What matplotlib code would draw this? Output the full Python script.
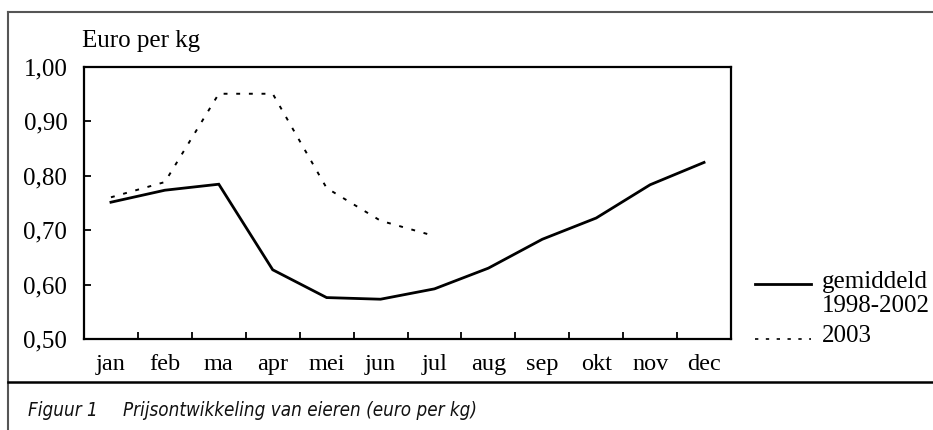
import matplotlib
matplotlib.use("Agg")
import matplotlib.pyplot as plt
from matplotlib.lines import Line2D

# ---- data ----
months = ["jan", "feb", "ma", "apr", "mei", "jun", "jul", "aug", "sep", "okt", "nov", "dec"]
avg_1998_2002 = [0.751, 0.773, 0.784, 0.627, 0.576, 0.573, 0.592, 0.630, 0.683, 0.722, 0.783, 0.824]
prices_2003 = [0.760, 0.788, 0.950, 0.950, 0.777, 0.717, 0.689]
y_ticks = [0.50, 0.60, 0.70, 0.80, 0.90, 1.00]
y_tick_labels = ["0,50", "0,60", "0,70", "0,80", "0,90", "1,00"]
label_avg = ["gemiddeld", "1998-2002"]
label_2003 = "2003"
y_title = "Euro per kg"
caption_num = "Figuur 1"
caption_txt = "Prijsontwikkeling van eieren (euro per kg)"

serif = ["Liberation Serif", "DejaVu Serif"]
DOT = (0, (2.0, 4.5))

W, H = 933, 430
fig = plt.figure(figsize=(W / 100, H / 100), dpi=100)

def fx(px):
    return px / W

def fy(py):
    return 1 - py / H

ax = fig.add_axes([fx(84), fy(339), fx(731) - fx(84), fy(66.5) - fy(339)])

x = list(range(1, len(months) + 1))
ax.plot(x, avg_1998_2002, color="black", lw=2.0, solid_joinstyle="miter")
ax.plot(x[:len(prices_2003)], prices_2003, color="black", lw=1.4, linestyle=DOT)

ax.set_xlim(0.5, len(months) + 0.5)
ax.set_ylim(0.5, 1.0)

# x: tick marks at month boundaries, labels at month centers
ax.set_xticks([i + 0.5 for i in range(1, len(months))])
ax.set_xticklabels([])
ax.set_xticks(x, minor=True)
ax.set_xticklabels(months, minor=True, fontfamily=serif, fontsize=17.5)
ax.tick_params(axis="x", which="major", direction="in", length=5, width=1.3)
ax.tick_params(axis="x", which="minor", length=0, pad=11)

ax.set_yticks(y_ticks)
ax.set_yticklabels(y_tick_labels, fontfamily=serif, fontsize=18)
ax.tick_params(axis="y", direction="in", length=5, width=1.3, pad=12)

for s in ax.spines.values():
    s.set_linewidth(1.6)

# y title
fig.text(fx(82), fy(47), y_title, fontfamily=serif, fontsize=18,
         ha="left", va="baseline")

# legend (manual)
fig.add_artist(Line2D([fx(755), fx(811)], [fy(284), fy(284)], color="black", lw=2.0))
fig.text(fx(822), fy(282), label_avg[0], fontfamily=serif, fontsize=18,
         ha="left", va="center")
fig.text(fx(822), fy(306), label_avg[1], fontfamily=serif, fontsize=18,
         ha="left", va="center")
fig.add_artist(Line2D([fx(755), fx(811)], [fy(339), fy(339)], color="black", lw=1.2,
                      linestyle=DOT))
fig.text(fx(822), fy(336), label_2003, fontfamily=serif, fontsize=18,
         ha="left", va="center")

# frame lines
fig.add_artist(Line2D([fx(7.7), 1], [fy(12.3), fy(12.3)], color="#555555", lw=1.5))
fig.add_artist(Line2D([fx(7.7), fx(7.7)], [fy(12.3), 0], color="#555555", lw=1.5))
fig.add_artist(Line2D([fx(7.7), 1], [fy(382), fy(382)], color="black", lw=1.8))

# caption
cap_kw = dict(family="DejaVu Sans", stretch="condensed", style="italic",
              fontsize=13.5, ha="left", va="center", color="#111111")
fig.text(fx(28), fy(410), caption_num, **cap_kw)
fig.text(fx(123), fy(410), caption_txt, **cap_kw)

fig.savefig("out.png", dpi=100)
